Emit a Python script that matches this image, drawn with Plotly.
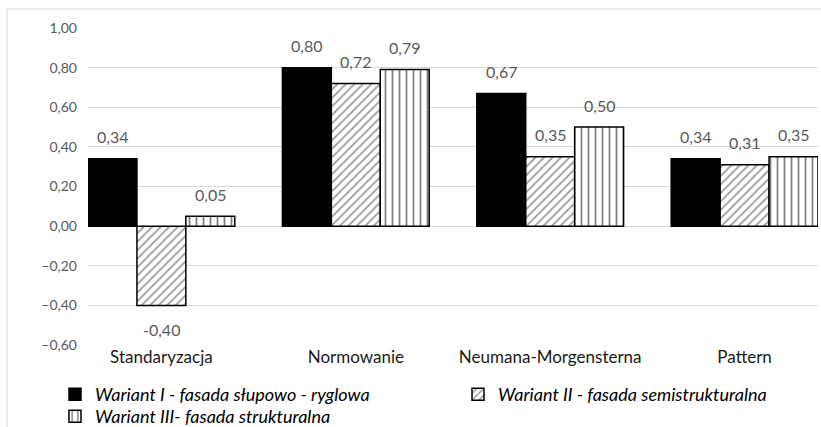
import plotly.graph_objects as go

categories = ["Standaryzacja", "Normowanie", "Neumana-Morgensterna", "Pattern"]
series_names = [
    "Wariant I - fasada słupowo - ryglowa",
    "Wariant II - fasada semistrukturalna",
    "Wariant III- fasada strukturalna",
]
wariant_1 = [0.34, 0.80, 0.67, 0.34]
wariant_2 = [-0.40, 0.72, 0.35, 0.31]
wariant_3 = [0.05, 0.79, 0.50, 0.35]
y_ticks = [-0.6, -0.4, -0.2, 0.0, 0.2, 0.4, 0.6, 0.8, 1.0]

FONT = "Lato"
bargap = 0.245
series = [wariant_1, wariant_2, wariant_3]
legend_ids = ["legend", "legend", "legend2"]
styles = [
    dict(color="#000000", line=dict(color="#000000", width=1.5)),
    dict(color="#ffffff", line=dict(color="#000000", width=1.5),
         pattern=dict(shape="/", fgcolor="#333333", bgcolor="#ffffff", size=6, solidity=0.3)),
    dict(color="#ffffff", line=dict(color="#000000", width=1.5),
         pattern=dict(shape="|", fgcolor="#000000", bgcolor="#ffffff", size=7, solidity=0.25)),
]

fig = go.Figure()
for name, vals, st, lg in zip(series_names, series, styles, legend_ids):
    fig.add_trace(go.Bar(x=categories, y=vals, name=name, marker=st, legend=lg))

# data labels
bw = (1 - bargap) / len(series)
annotations = []
for j, vals in enumerate(series):
    for i, v in enumerate(vals):
        annotations.append(dict(
            x=i + (j - 1) * bw, y=v, xref="x", yref="y",
            text=f"{v:.2f}".replace(".", ","), showarrow=False,
            yanchor="middle", yshift=22 if v >= 0 else -24,
            font=dict(family=FONT, size=16, color="#595959"),
        ))

W, H = 821, 427
L, R, T, B = 88, 3, 28, 82
pw, ph = W - L - R, H - T - B

legend_common = dict(
    orientation="h", xanchor="left", yanchor="top",
    font=dict(family=FONT, size=18, color="#000000", style="italic"),
    itemwidth=30, entrywidth=358, traceorder="normal",
    bgcolor="rgba(0,0,0,0)",
)

fig.update_layout(
    width=W, height=H,
    margin=dict(l=L, r=R, t=T, b=B, pad=0, autoexpand=False),
    paper_bgcolor="#ffffff", plot_bgcolor="#ffffff",
    barmode="group", bargap=bargap, bargroupgap=0,
    separators=", ",
    font=dict(family=FONT, size=14, color="#595959"),
    annotations=annotations,
    showlegend=True,
    legend=dict(x=(55 - L) / pw, y=(T + ph - 376) / ph, **legend_common),
    legend2=dict(x=(55 - L) / pw, y=(T + ph - 398) / ph, **legend_common),
    shapes=[dict(type="rect", xref="paper", yref="paper",
                 x0=(7 - L) / pw, x1=1.2, y0=-0.5, y1=1 + (T - 9) / ph,
                 line=dict(color="#d9d9d9", width=1), layer="below")],
)
fig.update_xaxes(
    type="category", range=[-0.5 + bargap / 2, 3.5 - bargap / 2],
    showgrid=False, zeroline=False, showline=False, ticks="",
    tickfont=dict(family=FONT, size=17, color="#1a1a1a"),
)
fig.update_yaxes(
    range=[-0.6, 1.0], tickvals=y_ticks, tickformat=".2f",
    showgrid=True, gridcolor="#d9d9d9", gridwidth=1,
    zeroline=True, zerolinecolor="#d9d9d9", zerolinewidth=1,
    showline=False, ticks="", ticklabelstandoff=10,
    tickfont=dict(family=FONT, size=14, color="#595959"),
)
fig.write_html("out.html", config={"displayModeBar": False},
               post_script="document.body.style.margin='0';")
